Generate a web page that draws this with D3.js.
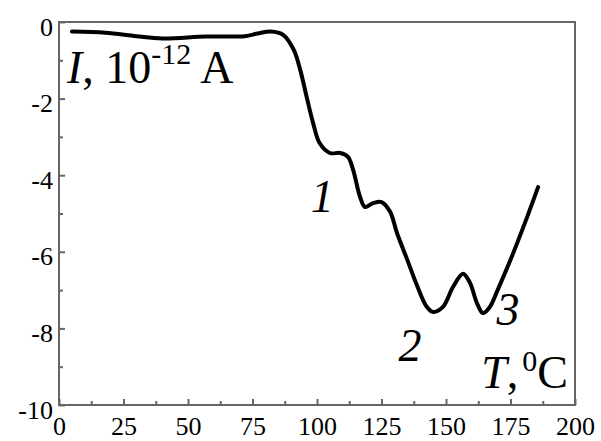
<!DOCTYPE html>
<html>
<head>
<meta charset="utf-8">
<script src="https://cdn.jsdelivr.net/npm/d3@7"></script>
<style>
  html, body { margin: 0; padding: 0; background: #fff; }
  svg text { font-family: "Liberation Serif", "Times New Roman", serif; fill: #000; }
</style>
</head>
<body>
<svg id="chart" width="601" height="441"></svg>
<script>
// ---- data ----
const temps = [5, 18, 30, 40, 57, 72, 77, 82, 87, 91, 93.5, 96, 98.5, 101, 105, 109, 112, 114,
  116.7, 118.6, 121.7, 125, 128.3, 131, 135, 139, 142.6, 145, 148.8, 152.7, 156.6, 159.3,
  162, 164.3, 167, 170, 175, 180, 185.7];
const current = [-0.25, -0.28, -0.37, -0.43, -0.38, -0.37, -0.3, -0.25, -0.34, -0.73, -1.25,
  -1.96, -2.64, -3.16, -3.42, -3.42, -3.52, -3.86, -4.57, -4.83, -4.73, -4.7, -4.95, -5.51,
  -6.21, -6.92, -7.44, -7.57, -7.44, -6.92, -6.57, -6.81, -7.34, -7.6, -7.44, -7.0, -6.21,
  -5.35, -4.31];

const xTicks = [0, 25, 50, 75, 100, 125, 150, 175, 200];
const yTicks = [0, -2, -4, -6, -8, -10];
const xMinor = d3.range(12.5, 200, 25);
const yMinor = [-1, -3, -5, -7, -9];

// peak labels
const peakLabels = ["1", "2", "3"];
const peakT = [102, 136, 174];
const peakI = [-4.95, -8.85, -7.9];

// ---- layout ----
const W = 601, H = 441;
const margin = { top: 22, right: 26, bottom: 36, left: 59 };
const innerW = W - margin.left - margin.right;
const innerH = H - margin.top - margin.bottom;

const svg = d3.select("#chart");
const g = svg.append("g").attr("transform", `translate(${margin.left},${margin.top})`);

const x = d3.scaleLinear().domain([0, 200]).range([0, innerW]);
const y = d3.scaleLinear().domain([-10, 0]).range([innerH, 0]);

const axisColor = "#666";

// frame
g.append("rect")
  .attr("width", innerW)
  .attr("height", innerH)
  .attr("fill", "none")
  .attr("stroke", axisColor)
  .attr("stroke-width", 2);

// axes (ticks pointing inward)
g.append("g")
  .attr("transform", `translate(0,${innerH})`)
  .call(d3.axisBottom(x).tickValues(xTicks).tickSize(-6).tickPadding(12).tickFormat(d => String(d)));

g.append("g")
  .attr("transform", `translate(0,${innerH})`)
  .call(d3.axisBottom(x).tickValues(xMinor).tickSize(-4).tickFormat(""));

const yAxis = g.append("g")
  .call(d3.axisLeft(y).tickValues(yTicks).tickSize(-6).tickPadding(6).tickFormat(d => String(d)));

g.append("g")
  .call(d3.axisLeft(y).tickValues(yMinor).tickSize(-4).tickFormat(""));

g.selectAll(".domain").remove();
g.selectAll(".tick line").attr("stroke", axisColor).attr("stroke-width", 2);
g.selectAll(".tick text")
  .style("font-family", "'Liberation Serif', serif")
  .style("font-size", "26px")
  .attr("fill", "#000");
yAxis.selectAll(".tick text").attr("dy", "0.5em");

// curve
const pts = temps.map((t, i) => [t, current[i]]);
const line = d3.line()
  .x(d => x(d[0]))
  .y(d => y(d[1]))
  .curve(d3.curveCatmullRom.alpha(0.5));

g.append("path")
  .datum(pts)
  .attr("fill", "none")
  .attr("stroke", "#000")
  .attr("stroke-width", 4)
  .attr("stroke-linejoin", "round")
  .attr("stroke-linecap", "round")
  .attr("d", line);

// peak numbers
g.selectAll(".peak")
  .data(peakLabels)
  .enter()
  .append("text")
  .attr("class", "peak")
  .attr("x", (d, i) => x(peakT[i]))
  .attr("y", (d, i) => y(peakI[i]))
  .attr("text-anchor", "middle")
  .style("font-size", "46px")
  .style("font-style", "italic")
  .text(d => d);

// y label: I, 10^-12 A
const yl = g.append("text")
  .attr("x", 8)
  .attr("y", 61)
  .style("font-size", "46px");
yl.append("tspan").style("font-style", "italic").text("I");
yl.append("tspan").text(", 10");
yl.append("tspan").attr("dy", -19).style("font-size", "30px").text("-12");
yl.append("tspan").attr("dy", 19).text(" A");

// x label: T, 0C
const xl = g.append("text")
  .attr("x", innerW - 7)
  .attr("y", 366)
  .attr("text-anchor", "end")
  .style("font-size", "46px");
xl.append("tspan").style("font-style", "italic").text("T");
xl.append("tspan").text(",");
xl.append("tspan").attr("dx", 4).attr("dy", -17).style("font-size", "30px").text("0");
xl.append("tspan").attr("dy", 17).text("C");
</script>
</body>
</html>
